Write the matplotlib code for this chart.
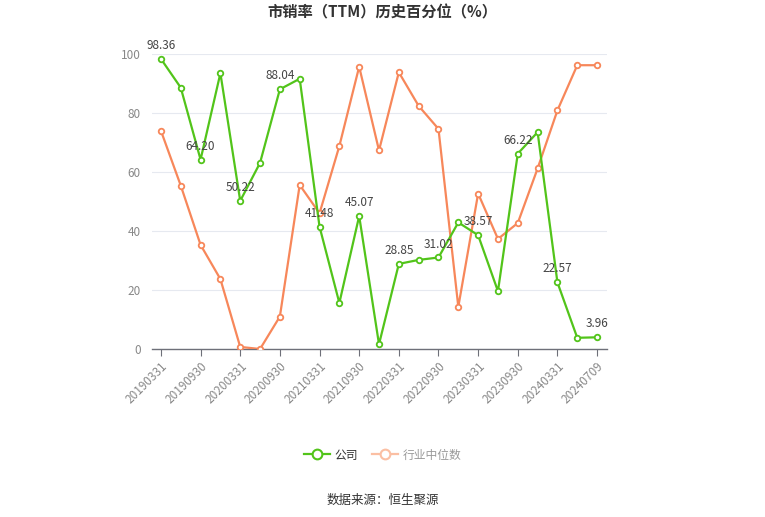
import matplotlib
matplotlib.use("Agg")
import matplotlib.pyplot as plt
from matplotlib.lines import Line2D

plt.rcParams['font.family'] = ['Noto Sans CJK SC', 'DejaVu Sans']

dates = ["20190331", "20190630", "20190930", "20191231", "20200331", "20200630",
         "20200930", "20201231", "20210331", "20210630", "20210930", "20211231",
         "20220331", "20220630", "20220930", "20221231", "20230331", "20230630",
         "20230930", "20231231", "20240331", "20240630", "20240709"]
company = [98.36, 88.6, 64.20, 93.5, 50.22, 63.1, 88.04, 91.6, 41.48, 15.6, 45.07, 1.6,
           28.85, 30.2, 31.02, 42.9, 38.57, 19.6, 66.22, 73.5, 22.57, 3.8, 3.96]
industry = [74.0, 55.4, 35.3, 23.7, 0.7, 0.0, 11.0, 55.6, 46.0, 68.8, 95.7, 67.3,
            93.8, 82.4, 74.6, 14.3, 52.7, 37.3, 42.7, 61.2, 80.9, 96.2, 96.2]
label_idx = list(range(0, 23, 2))
tick_idx = list(range(0, 23, 2))
yticks = [0, 20, 40, 60, 80, 100]

title = "市销率（TTM）历史百分位（%）"
legend_labels = ["公司", "行业中位数"]
source = "数据来源：恒生聚源"

green = "#52c41a"
orange = "#f7875a"
orange_light = "#fbbfa3"

fig = plt.figure(figsize=(7.65, 5.17), dpi=100)
ax = fig.add_axes([152/765, 1-349/517, (607-152)/765, (349-54)/517])

x = list(range(len(dates)))
ax.plot(x, industry, color=orange, lw=1.6, marker='o', ms=4, mfc='white',
        mec=orange, mew=1.3, zorder=3)
ax.plot(x, company, color=green, lw=1.6, marker='o', ms=4, mfc='white',
        mec=green, mew=1.3, zorder=4)

for i in label_idx:
    ax.annotate(f"{company[i]:.2f}", (x[i], company[i]), xytext=(0, 5),
                textcoords='offset points', ha='center', va='bottom',
                fontsize=8.5, color='#444444', zorder=5)

ax.set_xlim(-0.45, len(dates) - 1 + 0.5)
ax.set_ylim(0, 100)
ax.set_yticks(yticks)
ax.set_yticklabels([str(v) for v in yticks], fontsize=8.5, color='#888888')
ax.set_xticks(tick_idx)
ax.set_xticklabels([dates[i] for i in tick_idx], rotation=45, ha='right',
                   rotation_mode='anchor', fontsize=8.5, color='#888888')
ax.tick_params(axis='y', length=0, pad=8)
ax.tick_params(axis='x', length=5, color='#6e7079', pad=3)
ax.grid(axis='y', color='#e6e9f0', lw=0.8)
ax.set_axisbelow(True)
for s in ['top', 'right', 'left']:
    ax.spines[s].set_visible(False)
ax.spines['bottom'].set_color('#6e7079')
ax.spines['bottom'].set_linewidth(1)

fig.text(0.5, 1-12/517, title, ha='center', va='center', fontsize=11,
         fontweight='bold', color='#333333')

handles = [Line2D([0], [0], color=green, lw=1.6, marker='o', ms=7, mfc='white',
                  mec=green, mew=1.5),
           Line2D([0], [0], color=orange_light, lw=1.6, marker='o', ms=7, mfc='white',
                  mec=orange_light, mew=1.5)]
leg = fig.legend(handles, legend_labels, loc='center', bbox_to_anchor=(383/765, 1-455/517),
                 ncol=2, frameon=False, fontsize=8.5, handlelength=2.2,
                 columnspacing=1.2, handletextpad=0.4)
leg.get_texts()[0].set_color('#333333')
leg.get_texts()[1].set_color('#999999')

fig.text(383/765, 1-500/517, source, ha='center', va='center', fontsize=9,
         color='#333333')

fig.savefig("out.png", dpi=100)
